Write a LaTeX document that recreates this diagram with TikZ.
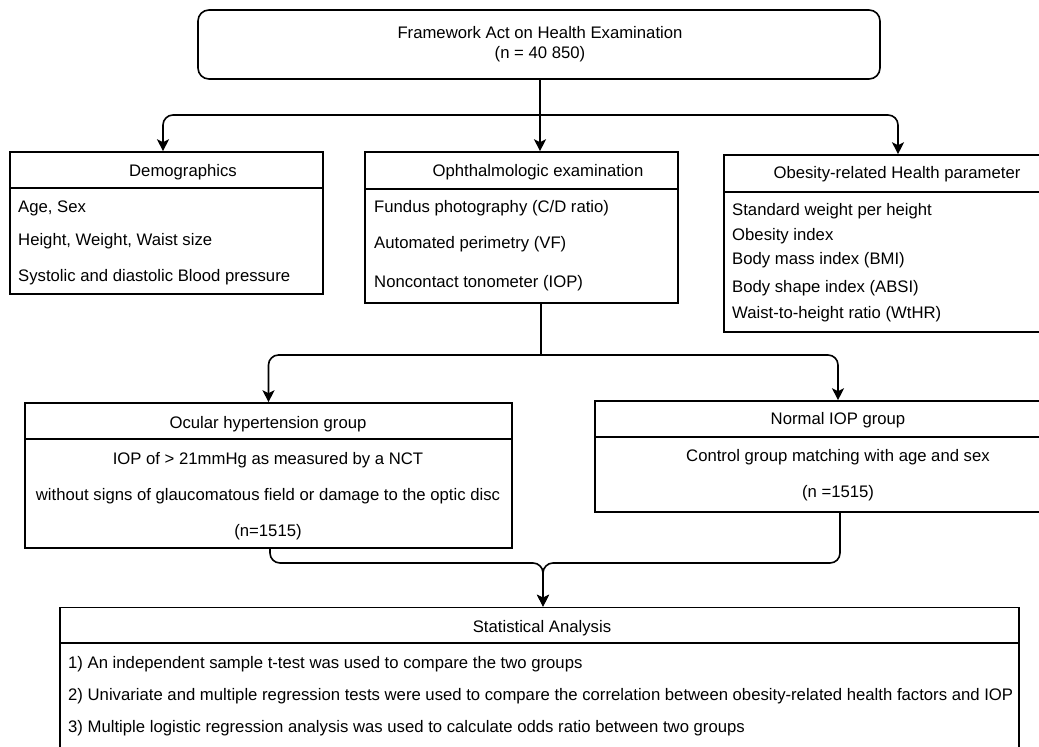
\documentclass[tikz,border=0pt]{standalone}
\usepackage{fontspec}
\setmainfont{Liberation Sans}
\usetikzlibrary{arrows.meta}
\begin{document}
\begin{tikzpicture}[x=1pt,y=-1pt,
  box/.style={draw,line width=1.6pt,inner sep=0pt,minimum width=#1},
  txt/.style={inner sep=0pt,anchor=base,font=\fontsize{16.7}{20}\selectfont},
  ltxt/.style={txt,anchor=base west},
  sep/.style={line width=1.6pt},
  arr/.style={line width=1.6pt,rounded corners=10pt,-{Stealth[length=12pt,width=12pt,inset=3pt]}},
  lnk/.style={line width=1.6pt,rounded corners=10pt}]
\clip (0,0) rectangle (1039,747);
% boxes
\node[box=682pt,minimum height=69pt,rounded corners=11pt] (top) at (539,44.5) {};
\node[box=313pt,minimum height=142pt] (demo) at (166.5,223) {};
\node[box=313pt,minimum height=151pt] (oph) at (521.5,227.5) {};
\node[box=346pt,minimum height=177pt] (obes) at (897,243.5) {};
\node[box=487pt,minimum height=145pt] (oht) at (268.5,475.5) {};
\node[box=486pt,minimum height=111pt] (nor) at (838,456.5) {};
\node[box=959pt,minimum height=160pt] (stat) at (539.5,687.5) {};
% dividers
\draw[sep] (demo.west |- 0,188) -- (demo.east |- 0,188);
\draw[sep] (oph.west |- 0,189) -- (oph.east |- 0,189);
\draw[sep] (obes.west |- 0,192) -- (obes.east |- 0,192);
\draw[sep] (oht.west |- 0,439) -- (oht.east |- 0,439);
\draw[sep] (nor.west |- 0,437) -- (nor.east |- 0,437);
\draw[sep] (stat.west |- 0,643) -- (stat.east |- 0,643);
% texts
\node[txt] (t1) at (540,38) {Framework Act on Health Examination};
\node[txt] (t2) at (540,58) {(n = 40 850)};
\node[txt] (dh) at (183,176) {Demographics};
\node[ltxt] (d1) at (18,212) {Age, Sex};
\node[ltxt] (d2) at (18,245) {Height, Weight, Waist size};
\node[ltxt] (d3) at (18,281) {Systolic and diastolic Blood pressure};
\node[txt] (oh) at (538,176) {Ophthalmologic examination};
\node[ltxt] (o1) at (374,212) {Fundus photography (C/D ratio)};
\node[ltxt] (o2) at (374,248) {Automated perimetry (VF)};
\node[ltxt] (o3) at (374,287) {Noncontact tonometer (IOP)};
\node[txt] (bh) at (897,178) {Obesity-related Health parameter};
\node[ltxt] (b1) at (732,215) {Standard weight per height};
\node[ltxt] (b2) at (732,240) {Obesity index};
\node[ltxt] (b3) at (732,264) {Body mass index (BMI)};
\node[ltxt] (b4) at (732,292) {Body shape index (ABSI)};
\node[ltxt] (b5) at (732,318) {Waist-to-height ratio (WtHR)};
\node[txt] (hh) at (268,428) {Ocular hypertension group};
\node[txt] (h1) at (268,464) {IOP of > 21mmHg as measured by a NCT};
\node[txt] (h2) at (268,500) {without signs of glaucomatous field or damage to the optic disc};
\node[txt] (h3) at (268,536) {(n=1515)};
\node[txt] (nh) at (838,424) {Normal IOP group};
\node[txt] (n1) at (838,461) {Control group matching with age and sex};
\node[txt] (n2) at (838,497) {(n =1515)};
\node[txt] (sh) at (542,632) {Statistical Analysis};
\node[ltxt] (s1) at (68,668) {1) An independent sample t-test was used to compare the two groups};
\node[ltxt] (s2) at (68,700) {2) Univariate and multiple regression tests were used to compare the correlation between obesity-related health factors and IOP};
\node[ltxt] (s3) at (68,732) {3) Multiple logistic regression analysis was used to calculate odds ratio between two groups};
% connectors
\coordinate (br1) at (540,115);
\coordinate (br2) at (541,355);
\coordinate (br3) at (543,563);
\draw[arr] ([xshift=1pt]top.south) -- ([xshift=1pt]top.south |- oph.north);
\draw[arr] (br1) -| ([xshift=-3.5pt]demo.north);
\draw[arr] (br1) -| ([xshift=1pt]obes.north);
\draw[lnk] ([xshift=19.5pt]oph.south) -- (br2);
\draw[arr] (br2) -| (oht.north);
\draw[arr] (br2) -| (nor.north);
\draw[arr] ([xshift=1.5pt]oht.south) |- (br3) -- (br3 |- stat.north);
\draw[arr] ([xshift=2pt]nor.south) |- (br3) -- (br3 |- stat.north);
\end{tikzpicture}
\end{document}
